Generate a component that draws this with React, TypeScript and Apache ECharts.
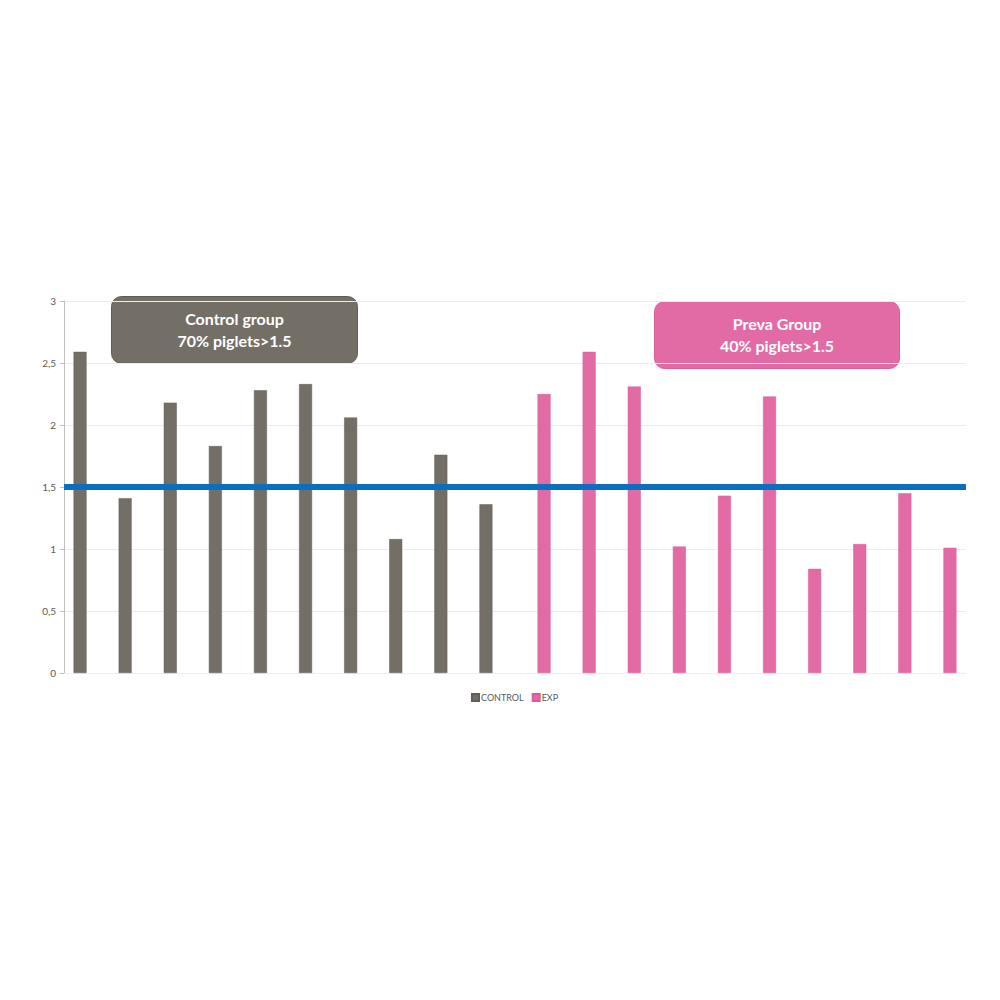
import React, { useEffect, useRef } from "react";
import * as echarts from "echarts";

const categories = ["1","2","3","4","5","6","7","8","9","10","11","12","13","14","15","16","17","18","19","20"];
const controlValues = [2.59, 1.41, 2.18, 1.83, 2.28, 2.33, 2.06, 1.08, 1.76, 1.36, null, null, null, null, null, null, null, null, null, null];
const expValues = [null, null, null, null, null, null, null, null, null, null, 2.25, 2.59, 2.31, 1.02, 1.43, 2.23, 0.84, 1.04, 1.45, 1.01];
const threshold = 1.5;
const yTicks = [0, 0.5, 1, 1.5, 2, 2.5, 3];

export default function App() {
  const ref = useRef<HTMLDivElement>(null);
  useEffect(() => {
    const chart = echarts.init(ref.current!, null, { renderer: "svg" });
    const boxText = (lines: string[]) => lines.join("\n");
    chart.setOption({
      animation: false,
      backgroundColor: "#ffffff",
      grid: { left: 64, right: 34, top: 301, bottom: 327 },
      legend: {
        data: ["CONTROL", "EXP"],
        left: 466,
        top: 688,
        itemWidth: 7,
        itemHeight: 7,
        itemGap: 8,
        icon: "rect",
        textStyle: { fontSize: 9, color: "#595959", fontFamily: "Lato", padding: [0, 0, 0, -3] },
      },
      xAxis: {
        type: "category",
        data: categories,
        axisLine: { show: true, lineStyle: { color: "#eeeeee" } },
        axisTick: { show: false },
        axisLabel: { show: false },
      },
      yAxis: {
        type: "value",
        min: 0,
        max: 3,
        interval: 0.5,
        axisLine: { show: true, lineStyle: { color: "#bfbfbf" } },
        axisTick: { show: true, length: 4, lineStyle: { color: "#bfbfbf" } },
        axisLabel: {
          color: "#595959",
          fontSize: 10,
          fontFamily: "Lato",
          margin: 8,
          formatter: (v: number) => (yTicks.includes(v) ? String(v).replace(".", ",") : ""),
        },
        splitLine: { lineStyle: { color: "#e9ecf0" } },
      },
      series: [
        {
          name: "CONTROL",
          type: "bar",
          data: controlValues,
          barWidth: 13,
          barGap: "0%",
          itemStyle: { color: "#736f67", borderColor: "#625f58", borderWidth: 0.5 },
          markLine: {
            silent: true,
            symbol: "none",
            label: { show: false },
            lineStyle: { color: "#0a6fc1", width: 6, type: "solid" },
            data: [{ yAxis: threshold }],
          },
        },
        {
          name: "EXP",
          type: "bar",
          data: expValues,
          barWidth: 13,
          barGap: "0%",
          itemStyle: { color: "#e26ba6", borderColor: "#d65d99", borderWidth: 0.5 },
        },
      ],
      graphic: [
        {
          type: "group",
          left: 111,
          top: 296,
          children: [
            {
              type: "rect",
              shape: { x: 0, y: 0, width: 246, height: 67, r: 10 },
              style: { fill: "#736f67", stroke: "#5f5c55", lineWidth: 1 },
            },
            {
              type: "text",
              x: 123,
              y: 33,
              style: {
                text: boxText(["Control group", "70% piglets>1.5"]),
                fill: "#ffffff",
                font: "bold 16px Lato",
                lineHeight: 22,
                align: "center",
                verticalAlign: "middle",
              },
            },
          ],
        },
        {
          type: "group",
          left: 654,
          top: 301,
          children: [
            {
              type: "rect",
              shape: { x: 0, y: 0, width: 245, height: 67, r: 10 },
              style: { fill: "#e26ba6", stroke: "#d8609b", lineWidth: 1 },
            },
            {
              type: "text",
              x: 122.5,
              y: 33,
              style: {
                text: boxText(["Preva Group", "40% piglets>1.5"]),
                fill: "#ffffff",
                font: "bold 16px Lato",
                lineHeight: 22,
                align: "center",
                verticalAlign: "middle",
              },
            },
          ],
        },
      ],
    });
    return () => chart.dispose();
  }, []);
  return <div ref={ref} style={{ position: "fixed", left: 0, top: 0, width: 1000, height: 1000 }} />;
}
